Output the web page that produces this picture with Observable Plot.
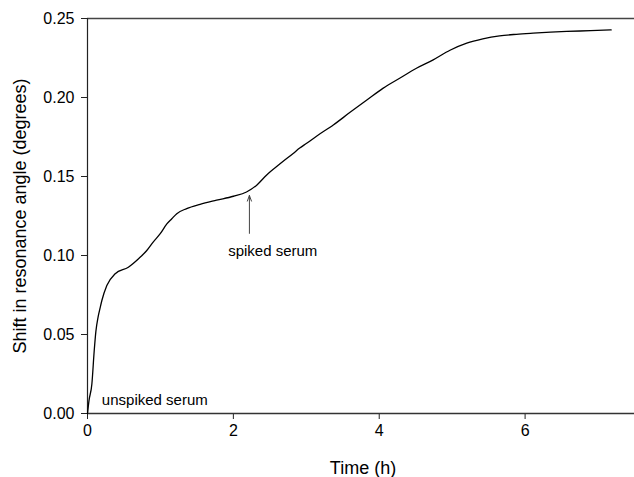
<!DOCTYPE html>
<html>
<head>
<meta charset="utf-8">
<script src="https://cdn.jsdelivr.net/npm/d3@7"></script>
<script src="https://cdn.jsdelivr.net/npm/@observablehq/plot@0.6"></script>
<style>
  html, body { margin: 0; padding: 0; background: #fff; }
  #chart svg { display: block; }
</style>
</head>
<body>
<div id="chart"></div>
<script>
// Time (h) and shift in resonance angle (degrees)
const timeH = [0, 0.02, 0.06, 0.092, 0.115, 0.145, 0.174, 0.197, 0.265, 0.38, 0.56, 0.70, 0.81, 0.90, 1.00, 1.088, 1.156, 1.224, 1.36, 1.544, 1.77, 2.0, 2.18, 2.32, 2.457, 2.64, 2.82, 2.91, 3.005, 3.14, 3.37, 3.60, 3.83, 4.05, 4.28, 4.51, 4.74, 4.97, 5.20, 5.42, 5.65, 5.88, 6.11, 6.57, 6.9, 7.18];
const shiftDeg = [0, 0.008, 0.0187, 0.0397, 0.052, 0.061, 0.067, 0.0715, 0.081, 0.0885, 0.0926, 0.098, 0.103, 0.1085, 0.114, 0.120, 0.1233, 0.1265, 0.1297, 0.1324, 0.135, 0.1375, 0.1402, 0.1445, 0.151, 0.158, 0.1646, 0.168, 0.171, 0.1755, 0.1826, 0.1906, 0.1984, 0.2058, 0.2122, 0.2185, 0.2238, 0.2299, 0.2344, 0.2371, 0.239, 0.2400, 0.2407, 0.2418, 0.2423, 0.2428];

const xTicks = [0, 2, 4, 6];
const yTicks = [0, 0.05, 0.10, 0.15, 0.20, 0.25];
const xDomain = [0, 7.5];
const yDomain = [0, 0.25];

const xTitle = "Time (h)";
const yTitle = "Shift in resonance angle (degrees)";

// Annotations
const spikedLabel = ["spiked serum"];
const spikedX = [2.54];
const spikedY = [0.103];
const unspikedLabel = ["unspiked serum"];
const unspikedX = [0.197];
const unspikedY = [0.0085];
const arrowX = [2.22];
const arrowFromY = [0.114];
const arrowToY = [0.138];

const series = timeH.map((t, i) => ({t, v: shiftDeg[i]}));
const spiked = spikedLabel.map((s, i) => ({s, x: spikedX[i], y: spikedY[i]}));
const unspiked = unspikedLabel.map((s, i) => ({s, x: unspikedX[i], y: unspikedY[i]}));
const arrows = arrowX.map((x, i) => ({x, y1: arrowFromY[i], y2: arrowToY[i]}));

const font = "Arial, 'Liberation Sans', Helvetica, sans-serif";

const chart = Plot.plot({
  width: 634,
  height: 477,
  marginLeft: 87,
  marginRight: 0,
  marginTop: 18,
  marginBottom: 64,
  style: {fontFamily: font, fontSize: "16px", color: "#000", background: "#fff"},
  x: {domain: xDomain},
  y: {domain: yDomain},
  marks: [
    Plot.axisX({ticks: xTicks, tickSize: 6, tickPadding: 5, label: null, fontSize: 16, stroke: "#222"}),
    Plot.axisY({ticks: yTicks, tickSize: 6, tickPadding: 7, tickFormat: d3.format(".2f"), label: null, fontSize: 16, stroke: "#222"}),
    Plot.ruleY([yDomain[0]], {stroke: "#333", strokeWidth: 1.6}),
    Plot.ruleY([yDomain[1]], {stroke: "#444", strokeWidth: 1.6}),
    Plot.ruleX([xDomain[0]], {stroke: "#222", strokeWidth: 1.2}),
    Plot.line(series, {x: "t", y: "v", stroke: "#000", strokeWidth: 1.3, curve: "monotone-x"}),
    Plot.arrow(arrows, {x: "x", y1: "y1", y2: "y2", stroke: "#444", strokeWidth: 1, headLength: 9, headAngle: 40}),
    Plot.text(spiked, {x: "x", y: "y", text: "s", textAnchor: "middle", fontSize: 15, fill: "#000"}),
    Plot.text(unspiked, {x: "x", y: "y", text: "s", textAnchor: "start", fontSize: 15, fill: "#000"}),
    Plot.text([xTitle], {frameAnchor: "bottom", textAnchor: "middle", lineAnchor: "middle", dy: 55, dx: 2, fontSize: 18, fill: "#000"}),
    Plot.text([yTitle], {frameAnchor: "left", textAnchor: "middle", lineAnchor: "middle", rotate: -90, dx: -67, fontSize: 18, fill: "#000"})
  ]
});
document.getElementById("chart").appendChild(chart);
</script>
</body>
</html>
